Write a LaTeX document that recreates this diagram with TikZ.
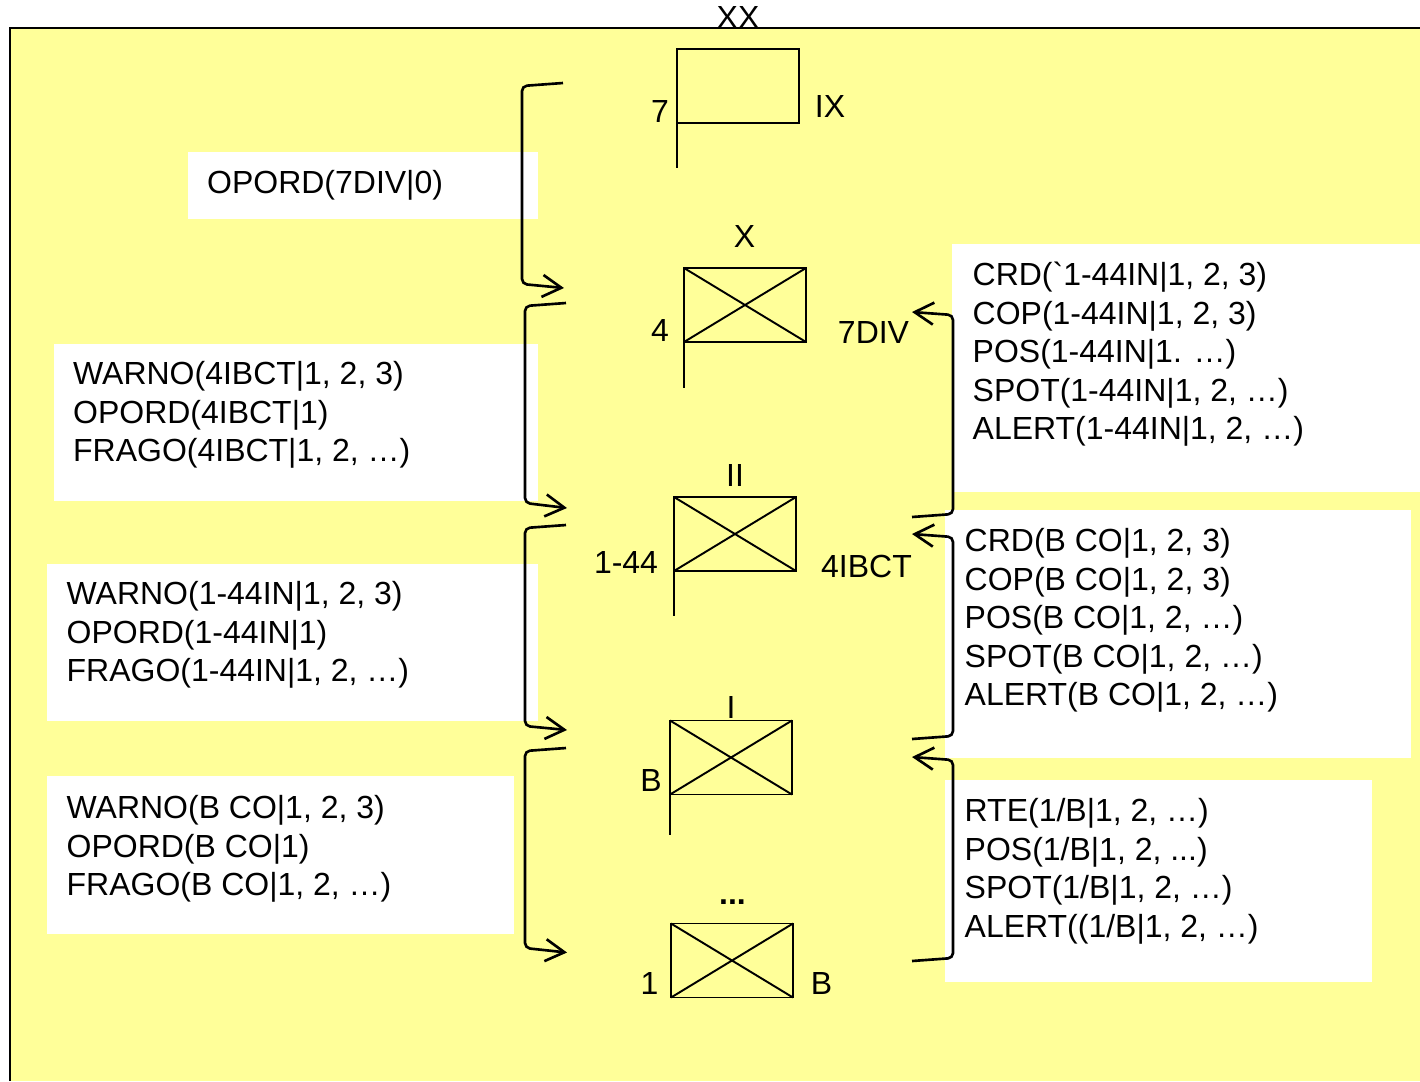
\documentclass[tikz,border=0pt]{standalone}
\usepackage{fontspec}
\newfontfamily\diagfont{Liberation Sans}
\usetikzlibrary{arrows.meta}
\definecolor{panelyellow}{RGB}{255,255,153}

\begin{document}
\begin{tikzpicture}[
    x=0.1mm, y=-0.1mm,
    font=\diagfont\fontsize{9.1}{10.95}\selectfont,
    unit/.style={draw, line width=0.55pt, outer sep=0pt, inner sep=0pt, anchor=north west, minimum width=12.2mm, minimum height=7.4mm},
    tag/.style={anchor=base, inner sep=0pt},
    msg/.style={anchor=north west, inner sep=0pt, align=left},
    msgbox/.style={fill=white, anchor=north west, inner sep=0pt, outer sep=0pt},
    link/.style={line width=0.75pt, rounded corners=0.5mm, -{Straight Barb[length=1.9mm,width=2.2mm,line width=0.75pt]}},
    staff/.style={line width=0.55pt},
]
\useasboundingbox (0,0) rectangle (1420,1081);

% background panel
\fill[panelyellow] (10,28) rectangle (1420,1081);
\draw[line width=0.6pt] (10,1081) -- (10,28) -- (1420,28);

% white boxes
\node[msgbox, minimum width=35mm, minimum height=6.7mm] (boxdiv) at (188,152) {};
\node[msgbox, minimum width=48.4mm, minimum height=15.7mm] (boxbct) at (54,344) {};
\node[msgbox, minimum width=49.1mm, minimum height=15.7mm] (boxbn) at (47,564) {};
\node[msgbox, minimum width=46.7mm, minimum height=15.8mm] (boxco) at (47,776) {};
\node[msgbox, minimum width=46.8mm, minimum height=24.8mm] (repbn) at (952,244) {};
\node[msgbox, minimum width=46.6mm, minimum height=24.8mm] (repco) at (945,510) {};
\node[msgbox, minimum width=42.7mm, minimum height=20.2mm] (reppl) at (945,780) {};

% unit symbols
\node[unit] (div) at (677,49) {};
\node[unit] (bct) at (684,268) {};
\node[unit] (bn) at (674,497) {};
\node[unit] (co) at (670,720.5) {};
\node[unit] (pl) at (671,923.5) {};

\draw[staff] (bct.north west) -- (bct.south east) (bct.south west) -- (bct.north east);
\draw[staff] (bn.north west) -- (bn.south east) (bn.south west) -- (bn.north east);
\draw[staff] (co.north west) -- (co.south east) (co.south west) -- (co.north east);
\draw[staff] (pl.north west) -- (pl.south east) (pl.south west) -- (pl.north east);

\coordinate (divfoot) at (677,168);
\coordinate (bctfoot) at (684,388);
\coordinate (bnfoot) at (674,616);
\coordinate (cofoot) at (670,835);
\draw[staff] (div.south west) -- (divfoot);
\draw[staff] (bct.south west) -- (bctfoot);
\draw[staff] (bn.south west) -- (bnfoot);
\draw[staff] (co.south west) -- (cofoot);

% echelon and unit labels
\node[tag] (xx) at (738,28) {XX};
\node[tag] (lbl7) at (660,122) {7};
\node[tag] (lblix) at (830,117.5) {IX};
\node[tag] (lblx) at (744.5,247.5) {X};
\node[tag] (lbl4) at (660,341) {4};
\node[tag] (lbl7div) at (873.5,343.5) {7DIV};
\node[tag] (lblii) at (735,486) {II};
\node[tag] (lbl144) at (626,573) {1-44};
\node[tag] (lbl4ibct) at (866.5,577) {4IBCT};
\node[tag] (lbli) at (731,718) {I};
\node[tag] (lblb) at (651,791) {B};
\node[tag, font=\diagfont\fontsize{9.1}{10.95}\selectfont\bfseries] (lbldots) at (732.5,904) {...};
\node[tag] (lbl1) at (649.5,994) {1};
\node[tag] (lblpl) at (821.5,994) {B};

% messages down
\node[msg] (orddiv) at (206.5,170) {OPORD(7DIV|0)};
\node[msg] (ordbct) at (72.5,361) {WARNO(4IBCT|1, 2, 3)\\OPORD(4IBCT|1)\\FRAGO(4IBCT|1, 2, …)};
\node[msg] (ordbn) at (66,581) {WARNO(1-44IN|1, 2, 3)\\OPORD(1-44IN|1)\\FRAGO(1-44IN|1, 2, …)};
\node[msg] (ordco) at (66,795) {WARNO(B CO|1, 2, 3)\\OPORD(B CO|1)\\FRAGO(B CO|1, 2, …)};

% messages up
\node[msg] (msgbn) at (972,261.3) {CRD(`1-44IN|1, 2, 3)\\COP(1-44IN|1, 2, 3)\\POS(1-44IN|1. …)\\SPOT(1-44IN|1, 2, …)\\ALERT(1-44IN|1, 2, …)};
\node[msg] (msgco) at (964,528) {CRD(B CO|1, 2, 3)\\COP(B CO|1, 2, 3)\\POS(B CO|1, 2, …)\\SPOT(B CO|1, 2, …)\\ALERT(B CO|1, 2, …)};
\node[msg] (msgpl) at (964,797.7) {RTE(1/B|1, 2, …)\\POS(1/B|1, 2, ...)\\SPOT(1/B|1, 2, …)\\ALERT((1/B|1, 2, …)};

% brackets
\coordinate (divout) at (563,83);
\coordinate (bctin) at (564,288);
\coordinate (bctout) at (566,303);
\coordinate (bnin) at (567,508);
\coordinate (bnout) at (566,525);
\coordinate (coin) at (567,730);
\coordinate (coout) at (566,748);
\coordinate (plin) at (567,952.5);
\coordinate (bnup) at (912,517);
\coordinate (bctrep) at (912,312);
\coordinate (coup) at (912,739);
\coordinate (bnrep) at (912,534);
\coordinate (plup) at (912,961);
\coordinate (corep) at (912,757);

\draw[link] (divout) -- (522,86) -- (522,284) -- (bctin);
\draw[link] (bctout) -- (525,306) -- (525,503) -- (bnin);
\draw[link] (bnout) -- (525,528) -- (525,726) -- (coin);
\draw[link] (coout) -- (525,751) -- (525,948) -- (plin);
\draw[link] (bnup) -- (953,514) -- (953,315) -- (bctrep);
\draw[link] (coup) -- (953,736) -- (953,537) -- (bnrep);
\draw[link] (plup) -- (953,958) -- (953,760) -- (corep);
\end{tikzpicture}
\end{document}
